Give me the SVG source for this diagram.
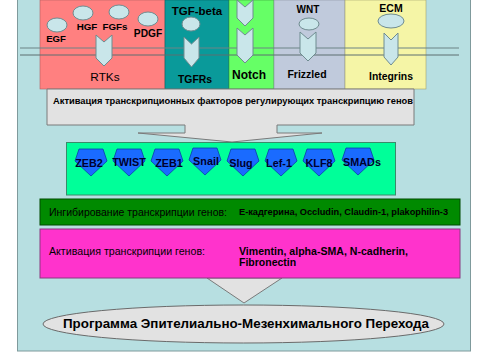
<svg xmlns="http://www.w3.org/2000/svg" width="480" height="360" viewBox="0 0 480 360">
<style>
text{font-family:"Liberation Sans",Arial,sans-serif;fill:#000}
.b{font-weight:bold}
.lig{fill:#e2e2e2;stroke:#7a7a7a;stroke-width:1}
.ell{fill:#c9e6ea;stroke:#6f8c90;stroke-width:1}
.chev{fill:#c9e6ea;stroke:#6f8c90;stroke-width:1}
.pent{fill:#1a6bff;stroke:#0b3fa8;stroke-width:0.8}
.pt{font-weight:bold;font-size:10.8px;fill:#00002e;text-anchor:middle}
.lbl{font-weight:bold;text-anchor:middle}
</style>
<rect x="0" y="0" width="480" height="360" fill="#ffffff"/>
<rect id="panel" x="17.5" y="-1" width="453" height="352" fill="#b7dfe1" stroke="#7f9a9c" stroke-width="1"/>

<g id="receptors">
<rect id="rtk-col" x="40" y="0" width="125" height="89" fill="#ff8080" stroke="#b06060" stroke-width="0.6"/>
<rect id="tgf-col" x="165" y="0" width="64" height="89" fill="#0a9a9a" stroke="#066" stroke-width="0.6"/>
<rect id="notch-col" x="229" y="0" width="45" height="89" fill="#66ff66" stroke="#3a9a3a" stroke-width="0.6"/>
<rect id="frizzled-col" x="274" y="0" width="71" height="89" fill="#c0cadc" stroke="#8a90a0" stroke-width="0.6"/>
<rect id="integrin-col" x="345" y="0" width="81" height="89" fill="#f5f5a6" stroke="#a0a070" stroke-width="0.6"/>
</g>

<g id="membrane">
<line x1="20" y1="48" x2="459" y2="48" stroke="#6d8486" stroke-width="1.2"/>
<line x1="20" y1="55" x2="459" y2="55" stroke="#5d6f70" stroke-width="1"/>
</g>

<g id="ligands">
<ellipse class="ell" cx="57" cy="25" rx="10" ry="7"/>
<ellipse class="ell" cx="83" cy="13" rx="10" ry="7"/>
<ellipse class="ell" cx="119" cy="12" rx="10" ry="7"/>
<ellipse class="ell" cx="148" cy="19" rx="10" ry="7"/>
<ellipse class="ell" cx="191" cy="24" rx="9" ry="7"/>
<ellipse class="ell" cx="309" cy="24" rx="10" ry="6"/>
<ellipse class="ell" cx="391" cy="21" rx="13" ry="7"/>
</g>

<g id="connectors">
<polygon class="chev" points="96,35 104,42 112,35 112,58 104,66 96,58"/>
<polygon class="chev" points="184,37 191.5,44 199,37 199,58 191.5,67 184,58"/>
<polygon class="chev" points="237,0 245,7 253,0 253,18 245,26 237,18"/>
<polygon class="chev" points="237,28 245,35 253,28 253,55 245,63 237,55"/>
<polygon class="chev" points="300,32 308,39 316,32 316,53 308,61 300,53"/>
<polygon class="chev" points="384,33 391,40 398,33 398,57 391,65 384,57"/>
<path id="arrow1" class="lig" d="M47,89 H414 V125 H277 V133 H322 L232,142 L138,133 H185 V125 H47 Z"/>
<polygon id="arrow2" class="lig" points="207,278 282,278 244,303"/>
</g>

<g id="receptor-labels">
<text class="lbl" x="56" y="42" font-size="9.6">EGF</text>
<text class="lbl" x="87" y="30" font-size="9.8">HGF</text>
<text class="lbl" x="115" y="30" font-size="9.8">FGFs</text>
<text class="lbl" x="148" y="37" font-size="10.2">PDGF</text>
<text class="lbl" x="197" y="15" font-size="11.5">TGF-beta</text>
<text class="lbl" x="308" y="13" font-size="10">WNT</text>
<text class="lbl" x="391" y="12" font-size="10.5">ECM</text>
<text x="105" y="81" font-size="11.8" text-anchor="middle">RTKs</text>
<text class="lbl" x="195" y="83" font-size="10.4">TGFRs</text>
<text class="lbl" x="249" y="79" font-size="12">Notch</text>
<text class="lbl" x="307" y="78" font-size="10.5">Frizzled</text>
<text class="lbl" x="391" y="80" font-size="10.4">Integrins</text>
</g>

<g id="activation-tf">
<text class="b" x="53" y="104" font-size="9.8" textLength="360" lengthAdjust="spacingAndGlyphs">Активация транскрипционных факторов регулирующих транскрипцию генов</text>
</g>

<g id="tf-box">
<rect x="66.5" y="142.5" width="329" height="52.5" fill="#00ff99" stroke="#3a8a6a" stroke-width="1"/>
<g id="zeb2"><polygon class="pent" points="79,149 103,149 107,161 91,176 75,161"/><text class="pt" x="89" y="167">ZEB2</text></g>
<g id="twist"><polygon class="pent" points="117,149 141,149 145,161 129,176 113,161"/><text class="pt" x="129" y="166">TWIST</text></g>
<g id="zeb1"><polygon class="pent" points="155,149 179,149 183,161 167,176 151,161"/><text class="pt" x="169" y="167">ZEB1</text></g>
<g id="snail"><polygon class="pent" points="193,148 217,148 221,160 205,175 189,160"/><text class="pt" x="206" y="165">Snail</text></g>
<g id="slug"><polygon class="pent" points="231,149 255,149 259,161 243,176 227,161"/><text class="pt" x="241" y="167">Slug</text></g>
<g id="lef1"><polygon class="pent" points="269,149 293,149 297,161 281,176 265,161"/><text class="pt" x="279" y="167">Lef-1</text></g>
<g id="klf8"><polygon class="pent" points="307,149 331,149 335,161 319,176 303,161"/><text class="pt" x="319" y="167">KLF8</text></g>
<g id="smads"><polygon class="pent" points="346,148 370,148 374,160 358,175 342,160"/><text class="pt" x="362" y="166">SMADs</text></g>
</g>

<g id="inhibition">
<rect x="40" y="199" width="420" height="26" fill="#008a00" stroke="#004a00" stroke-width="1"/>
<text x="49" y="216" font-size="10.3" textLength="178" lengthAdjust="spacingAndGlyphs">Ингибирование транскрипции генов:</text>
<text class="b" x="239" y="215" font-size="9.6" textLength="209" lengthAdjust="spacingAndGlyphs">E-кадгерина,  Occludin, Claudin-1, plakophilin-3</text>
</g>

<g id="activation-genes">
<rect x="40" y="229" width="420" height="49" fill="#ff33cc" stroke="#8a3a80" stroke-width="1"/>
<text x="49" y="255" font-size="10.3" textLength="156" lengthAdjust="spacingAndGlyphs">Активация транскрипции генов:</text>
<text class="b" x="239" y="255" font-size="10.5" textLength="169" lengthAdjust="spacingAndGlyphs">Vimentin, alpha-SMA, N-cadherin,</text>
<text class="b" x="239" y="266" font-size="10.5">Fibronectin</text>
</g>

<g id="emt-program">
<ellipse cx="243.5" cy="324" rx="200.5" ry="19" fill="#e2e2e2" stroke="#6a6a6a" stroke-width="1"/>
<text class="b" x="63" y="328" font-size="12.6" textLength="366" lengthAdjust="spacingAndGlyphs">Программа Эпителиально-Мезенхимального Перехода</text>
</g>
</svg>
